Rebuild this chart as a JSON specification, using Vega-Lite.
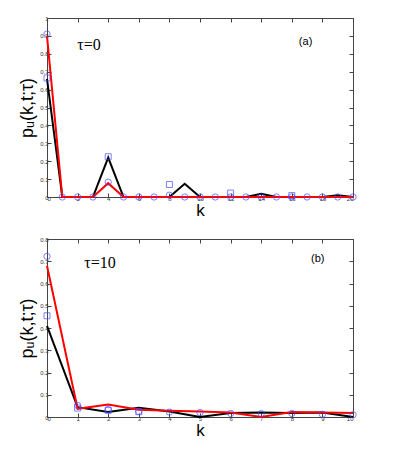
{
  "$schema": "https://vega.github.io/schema/vega-lite/v6.json",
  "padding": {"left": 18, "top": 15, "right": 5, "bottom": 5},
  "spacing": 18,
  "config": {
    "view": {"stroke": null},
    "axis": {"grid": false, "labelFont": "Liberation Sans", "labelFontSize": 6, "labelColor": "#333333", "domainColor": "#444444", "tickColor": "#444444", "titleFont": "Liberation Sans", "titleFontWeight": "normal", "titleColor": "#000000"}
  },
  "datasets": {
    "top": [
      {"k": 0, "series": "black", "p": 0.66}, {"k": 1, "series": "black", "p": 0}, {"k": 2, "series": "black", "p": 0}, {"k": 3, "series": "black", "p": 0}, {"k": 4, "series": "black", "p": 0.22}, {"k": 5, "series": "black", "p": 0}, {"k": 6, "series": "black", "p": 0}, {"k": 7, "series": "black", "p": 0}, {"k": 8, "series": "black", "p": 0}, {"k": 9, "series": "black", "p": 0.074}, {"k": 10, "series": "black", "p": 0}, {"k": 11, "series": "black", "p": 0}, {"k": 12, "series": "black", "p": 0}, {"k": 13, "series": "black", "p": 0}, {"k": 14, "series": "black", "p": 0.018}, {"k": 15, "series": "black", "p": 0}, {"k": 16, "series": "black", "p": 0}, {"k": 17, "series": "black", "p": 0}, {"k": 18, "series": "black", "p": 0}, {"k": 19, "series": "black", "p": 0.01}, {"k": 20, "series": "black", "p": 0},
      {"k": 0, "series": "red", "p": 0.9}, {"k": 1, "series": "red", "p": 0}, {"k": 2, "series": "red", "p": 0}, {"k": 3, "series": "red", "p": 0}, {"k": 4, "series": "red", "p": 0.077}, {"k": 5, "series": "red", "p": 0}, {"k": 6, "series": "red", "p": 0}, {"k": 7, "series": "red", "p": 0}, {"k": 8, "series": "red", "p": 0}, {"k": 9, "series": "red", "p": 0}, {"k": 10, "series": "red", "p": 0}, {"k": 11, "series": "red", "p": 0}, {"k": 12, "series": "red", "p": 0}, {"k": 13, "series": "red", "p": 0}, {"k": 14, "series": "red", "p": 0}, {"k": 15, "series": "red", "p": 0}, {"k": 16, "series": "red", "p": 0}, {"k": 17, "series": "red", "p": 0}, {"k": 18, "series": "red", "p": 0}, {"k": 19, "series": "red", "p": 0}, {"k": 20, "series": "red", "p": 0},
      {"k": 0, "series": "circle", "p": 0.91}, {"k": 1, "series": "circle", "p": 0}, {"k": 2, "series": "circle", "p": 0}, {"k": 3, "series": "circle", "p": 0}, {"k": 4, "series": "circle", "p": 0.083}, {"k": 5, "series": "circle", "p": 0}, {"k": 6, "series": "circle", "p": 0}, {"k": 7, "series": "circle", "p": 0}, {"k": 8, "series": "circle", "p": 0.01}, {"k": 9, "series": "circle", "p": 0}, {"k": 10, "series": "circle", "p": 0}, {"k": 11, "series": "circle", "p": 0}, {"k": 12, "series": "circle", "p": 0}, {"k": 13, "series": "circle", "p": 0}, {"k": 14, "series": "circle", "p": 0}, {"k": 15, "series": "circle", "p": 0}, {"k": 16, "series": "circle", "p": 0}, {"k": 17, "series": "circle", "p": 0}, {"k": 18, "series": "circle", "p": 0}, {"k": 19, "series": "circle", "p": 0}, {"k": 20, "series": "circle", "p": 0},
      {"k": 0, "series": "square", "p": 0.665}, {"k": 4, "series": "square", "p": 0.225}, {"k": 8, "series": "square", "p": 0.07}, {"k": 12, "series": "square", "p": 0.022}, {"k": 16, "series": "square", "p": 0.008}
    ],
    "bottom": [
      {"k": 0, "series": "black", "p": 0.41}, {"k": 1, "series": "black", "p": 0.044}, {"k": 2, "series": "black", "p": 0.022}, {"k": 3, "series": "black", "p": 0.042}, {"k": 4, "series": "black", "p": 0.025}, {"k": 5, "series": "black", "p": 0}, {"k": 6, "series": "black", "p": 0.018}, {"k": 7, "series": "black", "p": 0.02}, {"k": 8, "series": "black", "p": 0.018}, {"k": 9, "series": "black", "p": 0.02}, {"k": 10, "series": "black", "p": 0},
      {"k": 0, "series": "red", "p": 0.68}, {"k": 1, "series": "red", "p": 0.037}, {"k": 2, "series": "red", "p": 0.056}, {"k": 3, "series": "red", "p": 0.033}, {"k": 4, "series": "red", "p": 0.028}, {"k": 5, "series": "red", "p": 0.025}, {"k": 6, "series": "red", "p": 0.02}, {"k": 7, "series": "red", "p": 0}, {"k": 8, "series": "red", "p": 0.022}, {"k": 9, "series": "red", "p": 0.02}, {"k": 10, "series": "red", "p": 0.018},
      {"k": 0, "series": "circle", "p": 0.722}, {"k": 1, "series": "circle", "p": 0.052}, {"k": 2, "series": "circle", "p": 0.034}, {"k": 3, "series": "circle", "p": 0.025}, {"k": 4, "series": "circle", "p": 0.022}, {"k": 5, "series": "circle", "p": 0.02}, {"k": 6, "series": "circle", "p": 0.016}, {"k": 7, "series": "circle", "p": 0.015}, {"k": 8, "series": "circle", "p": 0.016}, {"k": 9, "series": "circle", "p": 0.012}, {"k": 10, "series": "circle", "p": 0.01},
      {"k": 0, "series": "square", "p": 0.455}, {"k": 1, "series": "square", "p": 0.04}, {"k": 2, "series": "square", "p": 0.03}, {"k": 3, "series": "square", "p": 0.024}
    ]
  },
  "vconcat": [
    {
      "width": 306,
      "height": 179,
      "resolve": {"axis": {"x": "independent", "y": "independent"}},
      "layer": [
        {
          "data": {"name": "top"},
          "transform": [{"filter": "datum.series === 'black' || datum.series === 'red'"}],
          "mark": {"type": "line", "strokeWidth": 2},
          "encoding": {
            "x": {"field": "k", "type": "quantitative", "scale": {"domain": [0, 20], "nice": false},
              "axis": {"values": [0, 2, 4, 6, 8, 10, 12, 14, 16, 18, 20], "tickSize": -4, "labelPadding": 2, "title": "k", "titleFontSize": 17, "titlePadding": 1}},
            "y": {"field": "p", "type": "quantitative", "scale": {"domain": [0, 1], "nice": false},
              "axis": {"values": [0, 0.1, 0.2, 0.3, 0.4, 0.5, 0.6, 0.7, 0.8, 0.9, 1], "format": ".1~f", "tickSize": -4, "labelPadding": 3, "title": "pᵤ(k,t;τ)", "titleFontSize": 18, "titlePadding": 3}},
            "color": {"field": "series", "type": "nominal", "scale": {"domain": ["black", "red"], "range": ["#000000", "#ff0000"]}, "legend": null}
          }
        },
        {
          "data": {"name": "top"},
          "transform": [{"filter": "datum.series === 'circle'"}],
          "mark": {"type": "point", "shape": "circle", "filled": false, "size": 40, "stroke": "#4a4aff", "strokeWidth": 1},
          "encoding": {
            "x": {"field": "k", "type": "quantitative", "axis": null},
            "y": {"field": "p", "type": "quantitative", "axis": null}
          }
        },
        {
          "data": {"name": "top"},
          "transform": [{"filter": "datum.series === 'square'"}],
          "mark": {"type": "point", "shape": "square", "filled": false, "size": 36, "stroke": "#4a4aff", "strokeWidth": 1},
          "encoding": {
            "x": {"field": "k", "type": "quantitative", "axis": null},
            "y": {"field": "p", "type": "quantitative", "axis": null}
          }
        },
        {
          "data": {"values": [{"label": "τ=0"}]},
          "mark": {"type": "text", "font": "Liberation Serif", "fontSize": 16, "align": "center", "baseline": "middle"},
          "encoding": {
            "text": {"field": "label"},
            "x": {"datum": 2.75, "type": "quantitative", "axis": null},
            "y": {"datum": 0.85, "type": "quantitative", "axis": null}
          }
        },
        {
          "data": {"values": [{"label": "(a)"}]},
          "mark": {"type": "text", "font": "Liberation Sans", "fontSize": 11, "align": "center", "baseline": "middle"},
          "encoding": {
            "text": {"field": "label"},
            "x": {"datum": 16.9, "type": "quantitative", "axis": {"orient": "top", "values": [0, 2, 4, 6, 8, 10, 12, 14, 16, 18, 20], "labels": false, "tickSize": -4, "title": null}},
            "y": {"datum": 0.866, "type": "quantitative", "axis": {"orient": "right", "values": [0, 0.1, 0.2, 0.3, 0.4, 0.5, 0.6, 0.7, 0.8, 0.9, 1], "labels": false, "tickSize": -4, "title": null}}
          }
        }
      ]
    },
    {
      "width": 306,
      "height": 178,
      "resolve": {"axis": {"x": "independent", "y": "independent"}},
      "layer": [
        {
          "data": {"name": "bottom"},
          "transform": [{"filter": "datum.series === 'black' || datum.series === 'red'"}],
          "mark": {"type": "line", "strokeWidth": 2},
          "encoding": {
            "x": {"field": "k", "type": "quantitative", "scale": {"domain": [0, 10], "nice": false},
              "axis": {"values": [0, 1, 2, 3, 4, 5, 6, 7, 8, 9, 10], "tickSize": -4, "labelPadding": 2, "title": "k", "titleFontSize": 17, "titlePadding": 1}},
            "y": {"field": "p", "type": "quantitative", "scale": {"domain": [0, 0.8], "nice": false},
              "axis": {"values": [0, 0.1, 0.2, 0.3, 0.4, 0.5, 0.6, 0.7, 0.8], "format": ".1~f", "tickSize": -4, "labelPadding": 3, "title": "pᵤ(k,t;τ)", "titleFontSize": 18, "titlePadding": 3}},
            "color": {"field": "series", "type": "nominal", "scale": {"domain": ["black", "red"], "range": ["#000000", "#ff0000"]}, "legend": null}
          }
        },
        {
          "data": {"name": "bottom"},
          "transform": [{"filter": "datum.series === 'circle'"}],
          "mark": {"type": "point", "shape": "circle", "filled": false, "size": 40, "stroke": "#4a4aff", "strokeWidth": 1},
          "encoding": {
            "x": {"field": "k", "type": "quantitative", "axis": null},
            "y": {"field": "p", "type": "quantitative", "axis": null}
          }
        },
        {
          "data": {"name": "bottom"},
          "transform": [{"filter": "datum.series === 'square'"}],
          "mark": {"type": "point", "shape": "square", "filled": false, "size": 36, "stroke": "#4a4aff", "strokeWidth": 1},
          "encoding": {
            "x": {"field": "k", "type": "quantitative", "axis": null},
            "y": {"field": "p", "type": "quantitative", "axis": null}
          }
        },
        {
          "data": {"values": [{"label": "τ=10"}]},
          "mark": {"type": "text", "font": "Liberation Serif", "fontSize": 16, "align": "center", "baseline": "middle"},
          "encoding": {
            "text": {"field": "label"},
            "x": {"datum": 1.73, "type": "quantitative", "axis": null},
            "y": {"datum": 0.69, "type": "quantitative", "axis": null}
          }
        },
        {
          "data": {"values": [{"label": "(b)"}]},
          "mark": {"type": "text", "font": "Liberation Sans", "fontSize": 11, "align": "center", "baseline": "middle"},
          "encoding": {
            "text": {"field": "label"},
            "x": {"datum": 8.85, "type": "quantitative", "axis": {"orient": "top", "values": [0, 1, 2, 3, 4, 5, 6, 7, 8, 9, 10], "labels": false, "tickSize": -4, "title": null}},
            "y": {"datum": 0.71, "type": "quantitative", "axis": {"orient": "right", "values": [0, 0.1, 0.2, 0.3, 0.4, 0.5, 0.6, 0.7, 0.8], "labels": false, "tickSize": -4, "title": null}}
          }
        }
      ]
    }
  ]
}
